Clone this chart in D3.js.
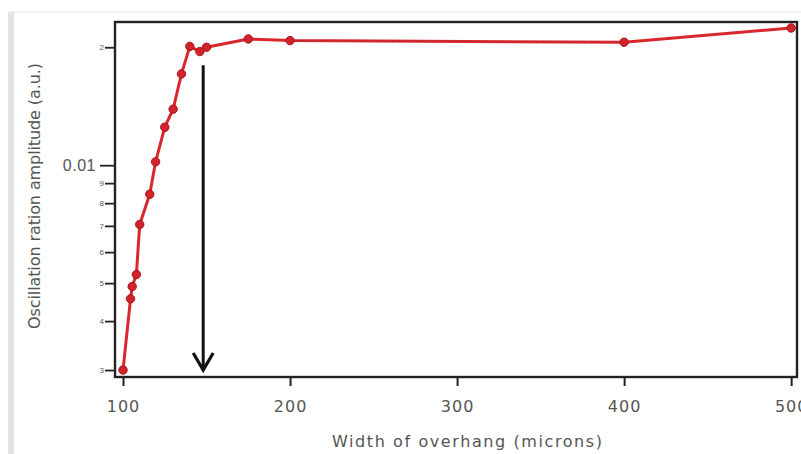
<!DOCTYPE html>
<html>
<head>
<meta charset="utf-8">
<script src="https://cdn.jsdelivr.net/npm/d3@7"></script>
<style>
  html, body { margin: 0; padding: 0; background: #fff; }
  svg { display: block; font-family: "DejaVu Sans", "Liberation Sans", Arial, sans-serif; }
</style>
</head>
<body>
<svg id="chart" width="801" height="454"></svg>
<script>
// Overhang width (microns) and measured oscillation ratio amplitude (a.u.)
const widths = [100, 104.5, 105.5, 108, 110, 116, 119.5, 125, 130, 135, 140, 146, 150, 175, 200, 400, 500];
const amplitudes = [0.003, 0.00456, 0.0049, 0.00526, 0.00706, 0.00843, 0.0102, 0.0125, 0.0139, 0.0171, 0.0201, 0.0195, 0.0200, 0.0210, 0.0208, 0.0206, 0.0224];

// Axis ticks
const xTicks = [100, 200, 300, 400, 500];
const yTickValues = [0.003, 0.004, 0.005, 0.006, 0.007, 0.008, 0.009, 0.01, 0.02];
const yTickLabels = ["3", "4", "5", "6", "7", "8", "9", "0.01", "2"];
const yMajor = [0.01];

// Marker for the critical overhang width
const arrowX = 148;
const arrowFrom = 0.018;
const arrowTo = 0.003;

const svg = d3.select("#chart");
const frame = { left: 115, right: 797, top: 22, bottom: 377 };

const x = d3.scaleLinear().domain([95.2, 503.5]).range([frame.left, frame.right]);
const y = d3.scaleLog().domain([0.00288, 0.0232]).range([frame.bottom, frame.top]);

// page edge decoration
svg.append("rect").attr("x", 8).attr("y", 12).attr("width", 6).attr("height", 442).attr("fill", "#e2e2e2");
svg.append("line").attr("x1", 8).attr("x2", 801).attr("y1", 12).attr("y2", 12)
  .attr("stroke", "#ececec").attr("stroke-width", 1.5);

// x axis
const xAxis = svg.append("g")
  .attr("transform", `translate(0,${frame.bottom})`)
  .call(d3.axisBottom(x).tickValues(xTicks).tickSize(9).tickPadding(15).tickFormat(d3.format("d")));
xAxis.select(".domain").remove();
xAxis.selectAll(".tick line").attr("stroke", "#222").attr("stroke-width", 2);
xAxis.selectAll(".tick text")
  .attr("fill", "#555").style("font-size", "16px").style("letter-spacing", "1px")
  .style("font-family", "'DejaVu Sans', sans-serif");

// y axis (log)
const yAxis = svg.append("g")
  .attr("transform", `translate(${frame.left},0)`)
  .call(d3.axisLeft(y).tickValues(yTickValues).tickSize(10).tickPadding(4)
    .tickFormat((d, i) => yTickLabels[i]));
yAxis.select(".domain").remove();
yAxis.selectAll(".tick line")
  .attr("stroke", "#222").attr("stroke-width", 1.8)
  .attr("x2", d => yMajor.includes(d) ? -15 : -10);
yAxis.selectAll(".tick text")
  .attr("fill", "#555")
  .attr("x", d => yMajor.includes(d) ? -19 : -11)
  .style("font-size", d => yMajor.includes(d) ? "16px" : "8px")
  .style("letter-spacing", d => yMajor.includes(d) ? "0.5px" : "0px");

// plot frame
svg.append("rect")
  .attr("x", frame.left).attr("y", frame.top)
  .attr("width", frame.right - frame.left).attr("height", frame.bottom - frame.top)
  .attr("fill", "none").attr("stroke", "#222").attr("stroke-width", 2.4);

// axis titles
svg.append("text")
  .attr("x", 467).attr("y", 447)
  .attr("text-anchor", "middle").attr("fill", "#555").style("font-size", "16px")
  .attr("textLength", 270).attr("lengthAdjust", "spacing")
  .text("Width of overhang (microns)");
svg.append("text")
  .attr("transform", "translate(40,196) rotate(-90)")
  .attr("text-anchor", "middle").attr("fill", "#555").style("font-size", "16px")
  .attr("textLength", 266).attr("lengthAdjust", "spacing")
  .text("Oscillation ration amplitude (a.u.)");

// data series
const pts = widths.map((w, i) => [w, amplitudes[i]]);
const line = d3.line().x(d => x(d[0])).y(d => y(d[1]));
svg.append("path").datum(pts)
  .attr("d", line).attr("fill", "none")
  .attr("stroke", "#d8282e").attr("stroke-width", 3).attr("stroke-linejoin", "round");
// fine dash texture along the long flat segment
svg.append("path").datum(pts.filter(d => d[0] >= 200 && d[0] <= 400))
  .attr("d", line).attr("fill", "none")
  .attr("stroke", "#a5262c").attr("stroke-width", 1.2).attr("stroke-dasharray", "3,3").attr("opacity", 0.6);

svg.append("g").selectAll("circle").data(pts).join("circle")
  .attr("cx", d => x(d[0])).attr("cy", d => y(d[1])).attr("r", 4.2)
  .attr("fill", "#d2232b").attr("stroke", "#a8161d").attr("stroke-width", 1);

// arrow
const ax = x(arrowX), ay0 = y(arrowFrom), ay1 = y(arrowTo);
svg.append("line")
  .attr("x1", ax).attr("x2", ax).attr("y1", ay0).attr("y2", ay1 - 3)
  .attr("stroke", "#111").attr("stroke-width", 3);
svg.append("path")
  .attr("d", `M${ax - 10},${ay1 - 17} L${ax},${ay1} L${ax + 10},${ay1 - 17}`)
  .attr("fill", "none").attr("stroke", "#111").attr("stroke-width", 3.2)
  .attr("stroke-linejoin", "miter");
</script>
</body>
</html>
